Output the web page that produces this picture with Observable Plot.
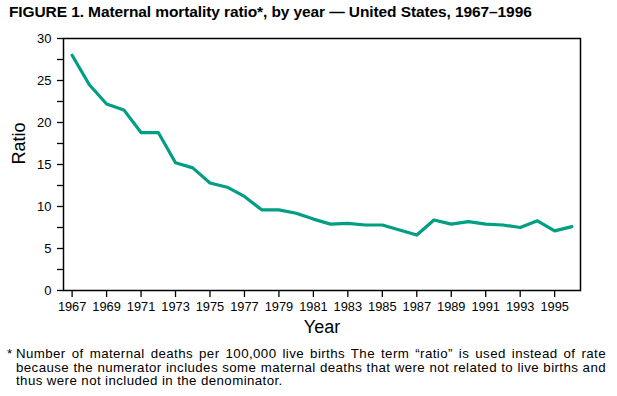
<!DOCTYPE html>
<html>
<head>
<meta charset="utf-8">
<script src="https://cdn.jsdelivr.net/npm/d3@7"></script>
<script src="https://cdn.jsdelivr.net/npm/@observablehq/plot@0.6"></script>
<style>
  html, body { margin: 0; padding: 0; background: #fff; }
  body { width: 617px; height: 396px; overflow: hidden; font-family: "Liberation Sans", Arial, sans-serif; color: #000; }
  #title { height: 30px; box-sizing: border-box; padding: 3px 0 0 9px; font-size: 15.5px; font-weight: bold; letter-spacing: -0.1px; }
  #chart svg { display: block; }
  #note { position: relative; width: 606px; font-size: 13.3px; line-height: 13.5px; margin-top: 5px; letter-spacing: 0.4px; }
  #note .star { position: absolute; left: 7px; top: 0; }
  #note .txt { padding-left: 16px; text-align: justify; }
</style>
</head>
<body>
<div id="title">FIGURE 1. Maternal mortality ratio*, by year — United States, 1967–1996</div>
<div id="chart"></div>
<div id="note"><span class="star">*</span><div class="txt">Number of maternal deaths per 100,000 live births The term “ratio” is used instead of rate because the numerator includes some maternal deaths that were not related to live births and thus were not included in the denominator.</div></div>
<script>
const years = [1967,1968,1969,1970,1971,1972,1973,1974,1975,1976,1977,1978,1979,1980,1981,1982,1983,1984,1985,1986,1987,1988,1989,1990,1991,1992,1993,1994,1995,1996];
const ratios = [28.0,24.5,22.2,21.5,18.8,18.8,15.2,14.6,12.8,12.3,11.2,9.6,9.6,9.2,8.5,7.9,8.0,7.8,7.8,7.2,6.6,8.4,7.9,8.2,7.9,7.8,7.5,8.3,7.1,7.6];
const xTickYears = [1967,1969,1971,1973,1975,1977,1979,1981,1983,1985,1987,1989,1991,1993,1995];
const yMajorTicks = [0,5,10,15,20,25,30];
const yMinorTicks = [2.5,7.5,12.5,17.5,22.5,27.5];

const data = years.map((y, i) => ({year: y, ratio: ratios[i]}));

const chart = Plot.plot({
  width: 617,
  height: 312,
  marginLeft: 63,
  marginRight: 37,
  marginTop: 8,
  marginBottom: 52,
  style: {fontFamily: "Liberation Sans, Arial, sans-serif", fontSize: "12.5px", color: "#000", background: "#fff"},
  x: {domain: [1966.5, 1996.5]},
  y: {domain: [0, 30]},
  marks: [
    Plot.frame({stroke: "#000", strokeWidth: 1.5}),
    Plot.axisY(yMajorTicks, {tickSize: 6, tickPadding: 6, strokeWidth: 1.3, fontSize: 13, label: null}),
    Plot.axisY(yMinorTicks, {tickSize: 6, tickFormat: () => "", strokeWidth: 1.3, label: null}),
    Plot.axisX(xTickYears, {tickSize: 7, tickPadding: 4, strokeWidth: 1.3, tickFormat: d => String(d), fontSize: 12.8, label: null}),
    Plot.text(["Ratio"], {frameAnchor: "left", dx: -44, rotate: -90, fontSize: 18}),
    Plot.text(["Year"], {frameAnchor: "bottom", dy: 42, fontSize: 18}),
    Plot.line(data, {x: "year", y: "ratio", stroke: "#009E82", strokeWidth: 3.2, strokeLinejoin: "round"})
  ]
});
document.getElementById("chart").appendChild(chart);
</script>
</body>
</html>
